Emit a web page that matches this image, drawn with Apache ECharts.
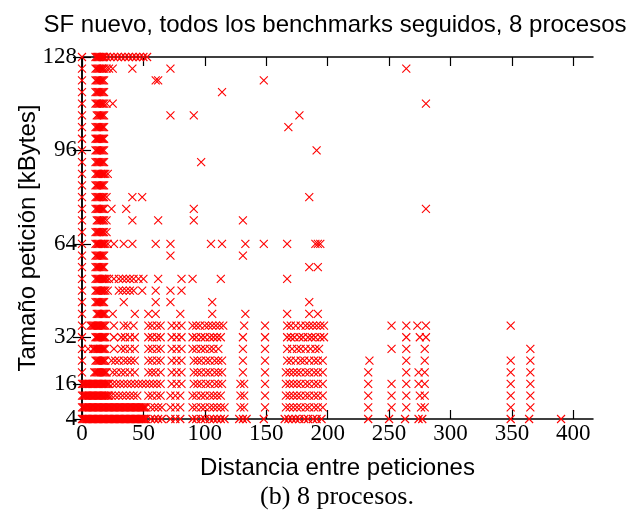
<!DOCTYPE html>
<html>
<head>
<meta charset="utf-8">
<script src="https://cdn.jsdelivr.net/npm/echarts@6/dist/echarts.min.js"></script>
<style>
  html, body { margin: 0; padding: 0; background: #fff; }
  #chart { width: 631px; height: 511px; }
</style>
</head>
<body>
<div id="chart"></div>
<script>
// Request size (kBytes) rows and the distances observed at each size
const sizes = [4, 8, 12, 16, 20, 24, 28, 32, 36, 40, 44, 48, 52, 56, 60, 64,
               68, 72, 76, 80, 84, 88, 92, 96, 100, 104, 108, 112, 116, 120, 124, 128];

const at4 = [0, 1, 2, 3, 4, 5, 6, 7, 8, 9, 10, 11, 12, 13, 14, 15, 16, 17, 18, 19, 20, 21, 22, 23, 24, 25, 26, 27, 28, 29, 30, 31, 32, 33, 34, 35, 36, 37, 38, 39, 40, 41, 42, 43, 44, 45, 46, 47, 48, 49, 50, 51, 52, 56, 59, 62, 65, 72, 76, 80, 90, 93, 97, 100, 104, 107, 110, 113, 116, 128, 131, 134, 148, 165, 168, 171, 174, 177, 181, 184, 188, 191, 195, 233, 250, 263, 274, 277, 349, 364, 390];
const at8 = [0, 1, 2, 3, 4, 5, 6, 7, 8, 9, 10, 11, 12, 13, 14, 15, 16, 17, 18, 19, 20, 21, 22, 23, 24, 25, 26, 27, 28, 29, 30, 31, 32, 33, 34, 35, 36, 37, 38, 39, 40, 41, 42, 43, 44, 45, 46, 47, 48, 49, 50, 51, 52, 56, 59, 62, 65, 72, 76, 80, 90, 93, 97, 100, 104, 107, 110, 113, 116, 129, 132, 149, 166, 169, 172, 175, 178, 182, 185, 189, 192, 196, 233, 252, 264, 276, 279, 349, 365];
const at12 = [0, 1, 2, 3, 4, 5, 6, 7, 8, 9, 10, 11, 12, 13, 14, 15, 16, 17, 18, 19, 20, 21, 22, 24, 27, 30, 33, 36, 39, 42, 45, 54, 57, 61, 64, 72, 76, 80, 90, 93, 97, 100, 104, 107, 110, 113, 129, 132, 149, 166, 169, 172, 175, 178, 182, 185, 189, 192, 196, 233, 252, 264, 275, 279, 349, 365];
const at16 = [0, 1, 2, 3, 4, 5, 6, 7, 8, 9, 10, 11, 12, 13, 14, 15, 16, 17, 18, 19, 20, 21, 22, 25, 28, 31, 34, 37, 40, 43, 46, 49, 52, 55, 58, 61, 64, 73, 77, 81, 91, 94, 97, 101, 104, 108, 111, 114, 129, 132, 149, 166, 169, 172, 175, 178, 182, 185, 189, 192, 196, 233, 252, 264, 274, 279, 349, 365];
const at20 = [0, 10, 11, 12, 13, 14, 15, 16, 17, 18, 19, 20, 25, 28, 32, 35, 39, 43, 54, 57, 60, 64, 73, 77, 81, 91, 94, 97, 101, 104, 108, 111, 114, 131, 149, 166, 169, 172, 175, 178, 182, 185, 189, 192, 196, 233, 264, 274, 279, 349, 365];
const at24 = [0, 11, 12, 13, 14, 15, 16, 17, 18, 19, 24, 27, 30, 34, 37, 40, 43, 54, 57, 61, 64, 73, 77, 81, 91, 94, 97, 101, 104, 108, 111, 114, 131, 149, 167, 170, 174, 178, 181, 185, 189, 192, 196, 234, 264, 279, 349, 365];
const at28 = [0, 5, 9, 10, 11, 12, 13, 14, 15, 16, 17, 18, 19, 26, 32, 35, 39, 43, 54, 57, 61, 64, 73, 77, 81, 90, 93, 97, 100, 104, 107, 111, 131, 149, 167, 171, 175, 178, 182, 186, 190, 193, 252, 264, 279, 365];
const at32 = [0, 11, 12, 13, 14, 15, 16, 17, 18, 19, 26, 32, 35, 39, 43, 54, 57, 61, 64, 73, 77, 81, 90, 93, 97, 100, 104, 107, 110, 113, 131, 149, 167, 170, 173, 177, 180, 184, 187, 190, 194, 197, 264, 275, 280];
const at36 = [0, 7, 8, 9, 10, 11, 12, 13, 14, 15, 16, 17, 18, 19, 26, 34, 37, 42, 54, 57, 61, 64, 73, 77, 81, 90, 93, 96, 100, 103, 106, 109, 112, 115, 132, 149, 167, 170, 174, 178, 182, 185, 188, 191, 194, 197, 252, 264, 273, 280, 349];
const at40 = [0, 12, 13, 14, 15, 16, 17, 18, 19, 25, 43, 54, 60, 80, 106, 133, 167, 185, 192];
const at44 = [0, 11, 12, 13, 14, 15, 16, 17, 18, 34, 60, 72, 106, 185];
const at48 = [0, 11, 12, 13, 14, 15, 16, 17, 18, 19, 21, 30, 33, 36, 39, 42, 49, 60, 72, 81];
const at52 = [0, 11, 12, 13, 14, 15, 16, 17, 18, 19, 20, 22, 26, 30, 33, 36, 39, 42, 46, 50, 62, 81, 90, 113, 167];
const at56 = [0, 11, 12, 13, 14, 15, 16, 17, 18, 185, 192];
const at60 = [0, 11, 12, 13, 14, 15, 16, 17, 18, 72, 131];
const at64 = [0, 11, 12, 13, 14, 15, 16, 17, 18, 19, 21, 26, 34, 41, 60, 72, 105, 114, 133, 148, 167, 190, 192, 194];
const at68 = [0, 11, 12, 13, 14, 15, 16, 17, 18, 20];
const at72 = [0, 12, 13, 14, 15, 16, 17, 18, 20, 41, 62, 91, 131];
const at76 = [0, 11, 12, 13, 14, 15, 16, 17, 18, 24, 36, 91, 280];
const at80 = [0, 11, 12, 13, 14, 15, 16, 17, 18, 20, 41, 49, 185];
const at84 = [0, 11, 12, 13, 14, 15, 16, 17, 18];
const at88 = [0, 11, 12, 13, 14, 15, 16, 17, 18, 19, 21];
const at92 = [0, 11, 12, 13, 14, 15, 16, 17, 18, 97];
const at96 = [0, 11, 12, 13, 14, 15, 16, 17, 18, 191];
const at100 = [0, 11, 12, 13, 14, 15, 16, 17, 18];
const at104 = [0, 11, 12, 13, 14, 15, 16, 17, 18, 168];
const at108 = [0, 12, 13, 14, 15, 16, 17, 18, 72, 91, 177];
const at112 = [0, 11, 12, 13, 14, 15, 16, 17, 18, 20, 25, 280];
const at116 = [0, 11, 12, 13, 14, 15, 16, 17, 18, 114];
const at120 = [0, 11, 12, 13, 14, 15, 16, 17, 18, 60, 62, 148];
const at124 = [0, 11, 12, 13, 14, 15, 16, 17, 18, 20, 22, 25, 41, 72, 264];
const at128 = [0, 11, 12, 13, 14, 15, 16, 17, 18, 20, 23, 26, 29, 32, 35, 38, 41, 44, 47, 50, 53];

const distancesBySize = [at4, at8, at12, at16, at20, at24, at28, at32, at36, at40, at44, at48,
  at52, at56, at60, at64, at68, at72, at76, at80, at84, at88, at92, at96, at100, at104,
  at108, at112, at116, at120, at124, at128];

// Axis tick marks
const xTicks = [0, 50, 100, 150, 200, 250, 300, 350, 400];
const yTicks = [4, 16, 32, 64, 96, 128];

const points = [];
sizes.forEach((s, i) => {
  distancesBySize[i].forEach(d => points.push([d, s]));
});

// gnuplot-style "x" point marker, drawn as two stroked diagonals
const crossSymbol = 'path://M0,0 L10,10 M10,0 L0,10';

const serif = '"Liberation Serif", "Times New Roman", serif';
const sans = '"Liberation Sans", Arial, Helvetica, sans-serif';
const axisLineStyle = { color: '#000', width: 1.5 };
const tickStyle = { color: '#000', width: 1.2 };

const chart = echarts.init(document.getElementById('chart'), null, { renderer: 'canvas' });
chart.setOption({
  animation: false,
  backgroundColor: '#fff',
  title: [
    {
      text: 'SF nuevo, todos los benchmarks seguidos, 8 procesos',
      left: 330, top: 8, textAlign: 'center',
      textStyle: { fontFamily: sans, fontSize: 24, fontWeight: 'normal', color: '#000' }
    },
    {
      text: '(b) 8 procesos.',
      left: 332, top: 479, textAlign: 'center',
      textStyle: { fontFamily: serif, fontSize: 26, fontWeight: 'normal', color: '#000' }
    }
  ],
  grid: { left: 82, right: 38, top: 57, bottom: 92, containLabel: false },
  xAxis: [
    {
      type: 'value', min: 0, max: 416, position: 'bottom',
      name: 'Distancia entre peticiones', nameLocation: 'middle', nameGap: 37,
      nameMoveOverlap: false,
      nameTextStyle: { fontFamily: sans, fontSize: 24, color: '#000' },
      axisLine: { show: true, lineStyle: axisLineStyle },
      axisTick: { show: true, inside: true, length: 9, lineStyle: tickStyle, customValues: xTicks },
      axisLabel: { show: true, margin: 3, fontFamily: serif, fontSize: 23, color: '#000', customValues: xTicks },
      splitLine: { show: false }
    },
    {
      type: 'value', min: 0, max: 416, position: 'top',
      axisLine: { show: true, lineStyle: axisLineStyle },
      axisTick: { show: true, inside: true, length: 9, lineStyle: tickStyle, customValues: xTicks },
      axisLabel: { show: false },
      splitLine: { show: false }
    }
  ],
  yAxis: [
    {
      type: 'value', min: 4, max: 128, position: 'left',
      name: 'Tamaño petición [kBytes]', nameLocation: 'middle', nameGap: 42,
      nameMoveOverlap: false,
      nameTextStyle: { fontFamily: sans, fontSize: 24, color: '#000' },
      axisLine: { show: true, lineStyle: axisLineStyle },
      axisTick: { show: true, inside: true, length: 9, lineStyle: tickStyle, customValues: yTicks },
      axisLabel: { show: true, margin: 5, fontFamily: serif, fontSize: 23, color: '#000', customValues: yTicks },
      splitLine: { show: false }
    },
    {
      type: 'value', min: 4, max: 128, position: 'right',
      axisLine: { show: true, lineStyle: axisLineStyle },
      axisTick: { show: true, inside: true, length: 9, lineStyle: tickStyle, customValues: yTicks },
      axisLabel: { show: false },
      splitLine: { show: false }
    }
  ],
  series: [
    {
      type: 'scatter',
      xAxisIndex: 0, yAxisIndex: 0,
      symbol: crossSymbol,
      symbolSize: 8,
      itemStyle: { color: 'none', borderColor: '#ff0000', borderWidth: 1.1, opacity: 1 },
      data: points,
      clip: false,
      z: 1
    }
  ]
});
</script>
</body>
</html>
